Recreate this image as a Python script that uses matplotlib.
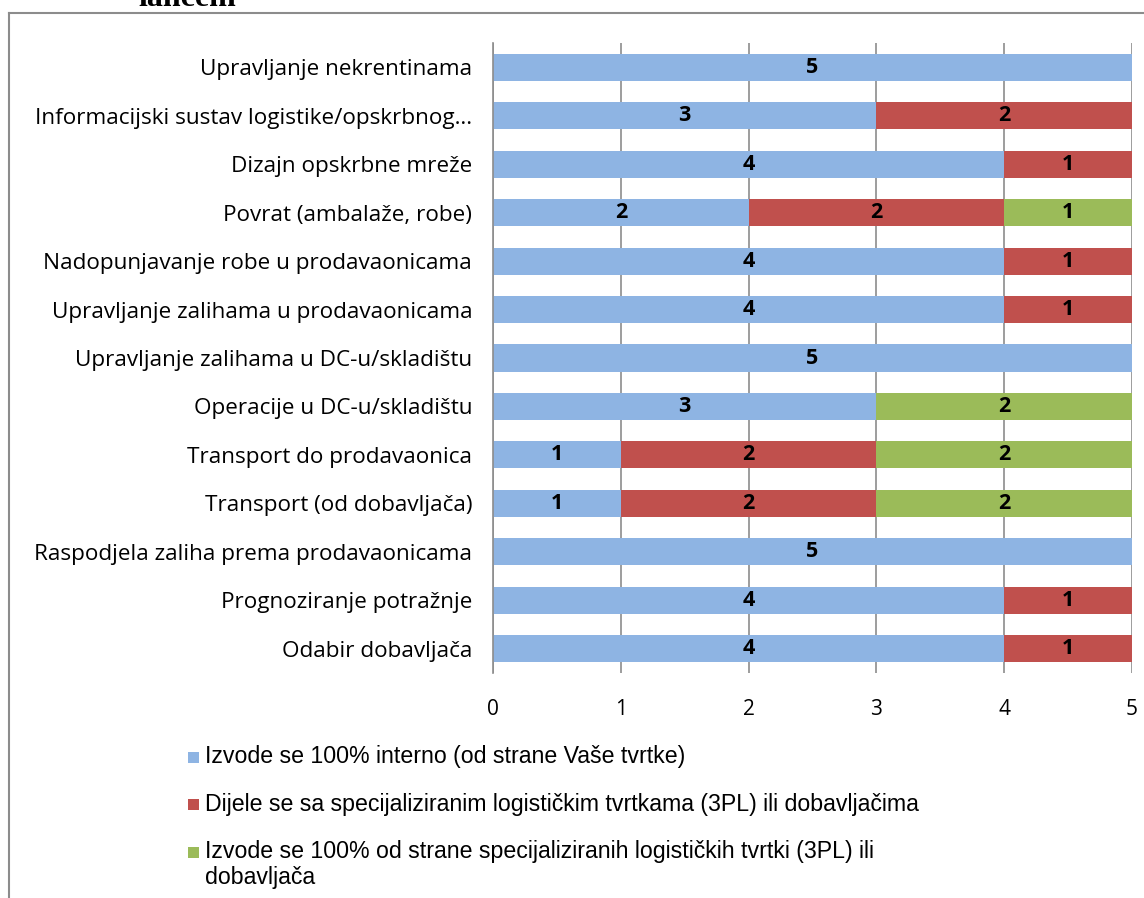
import matplotlib
matplotlib.use("Agg")
import matplotlib.pyplot as plt
from matplotlib.lines import Line2D
from matplotlib.patches import Rectangle

categories = [
    "Upravljanje nekrentinama",
    "Informacijski sustav logistike/opskrbnog…",
    "Dizajn opskrbne mreže",
    "Povrat (ambalaže, robe)",
    "Nadopunjavanje robe u prodavaonicama",
    "Upravljanje zalihama u prodavaonicama",
    "Upravljanje zalihama u DC-u/skladištu",
    "Operacije u DC-u/skladištu",
    "Transport do prodavaonica",
    "Transport (od dobavljača)",
    "Raspodjela zaliha prema prodavaonicama",
    "Prognoziranje potražnje",
    "Odabir dobavljača",
]
interno = [5, 3, 4, 2, 4, 4, 5, 3, 1, 1, 5, 4, 4]
dijeljeno = [0, 2, 1, 2, 1, 1, 0, 0, 2, 2, 0, 1, 1]
vanjski = [0, 0, 0, 1, 0, 0, 0, 2, 2, 2, 0, 0, 0]
series_names = [
    "Izvode se 100% interno (od strane Vaše tvrtke)",
    "Dijele se sa specijaliziranim logističkim tvrtkama (3PL) ili dobavljačima",
    "Izvode se 100% od strane specijaliziranih logističkih tvrtki (3PL) ili\ndobavljača",
]
colors = ["#8EB4E3", "#C0504D", "#9BBB59"]

W, H = 1144, 898
fig = plt.figure(figsize=(W / 100, H / 100), dpi=100)
ax = fig.add_axes([493 / W, 1 - 673 / H, (1132 - 493) / W, (673 - 43) / H])

n = len(categories)
ypos = list(range(n))
left = [0] * n
for vals, col in zip([interno, dijeljeno, vanjski], colors):
    ax.barh(ypos, vals, left=left, height=0.56, color=col, zorder=2)
    for y, l, v in zip(ypos, left, vals):
        if v > 0:
            ax.text(l + v / 2, y, str(v), ha="center", va="center",
                    fontsize=15.5, fontweight="bold", family="Open Sans", zorder=3)
    left = [a + b for a, b in zip(left, vals)]

ax.set_ylim(n - 0.5, -0.5)
ax.set_xlim(0, 5)
ax.set_xticks(range(6))
ax.set_yticks(ypos)
ax.set_yticklabels(categories, fontsize=16.2, family="Open Sans")
for lbl in ax.get_xticklabels():
    lbl.set_fontsize(15)
    lbl.set_family("Open Sans")
ax.tick_params(axis="y", length=0, pad=15)
ax.tick_params(axis="x", length=0, pad=19)
ax.grid(axis="x", color="#8c8c8c", linewidth=1.2, zorder=1)
for s in ["top", "right", "bottom"]:
    ax.spines[s].set_visible(False)
ax.spines["left"].set_color("#8c8c8c")
ax.spines["left"].set_linewidth(1.2)

# legend entries stacked under the axis
legend_y = [757, 804, 852]
for name, col, yy in zip(series_names, colors, legend_y):
    fy = 1 - yy / H
    fig.add_artist(Rectangle((188 / W, fy - 5.5 / H), 11 / W, 11 / H,
                             transform=fig.transFigure, color=col, lw=0))
    fig.text(205 / W, fy, name, fontsize=16.7, family="Liberation Sans",
             va="top" if "\n" in name else "center", ha="left",
             linespacing=1.15)
# the wrapped entry is anchored by its first line
fig.texts[-1].set_y(1 - (852 - 12) / H)

# chart frame and clipped heading from the page
fig.add_artist(Line2D([9 / W, 9 / W], [0, 1 - 13 / H], color="#8c8c8c", lw=1.5))
fig.add_artist(Line2D([9 / W, 1], [1 - 13 / H, 1 - 13 / H], color="#8c8c8c", lw=1.5))
fig.text(138 / W, 1 - 6 / H, "lancem", fontsize=23, fontweight="bold",
         family="Liberation Serif", va="baseline", ha="left")

fig.savefig("out.png", dpi=100)
